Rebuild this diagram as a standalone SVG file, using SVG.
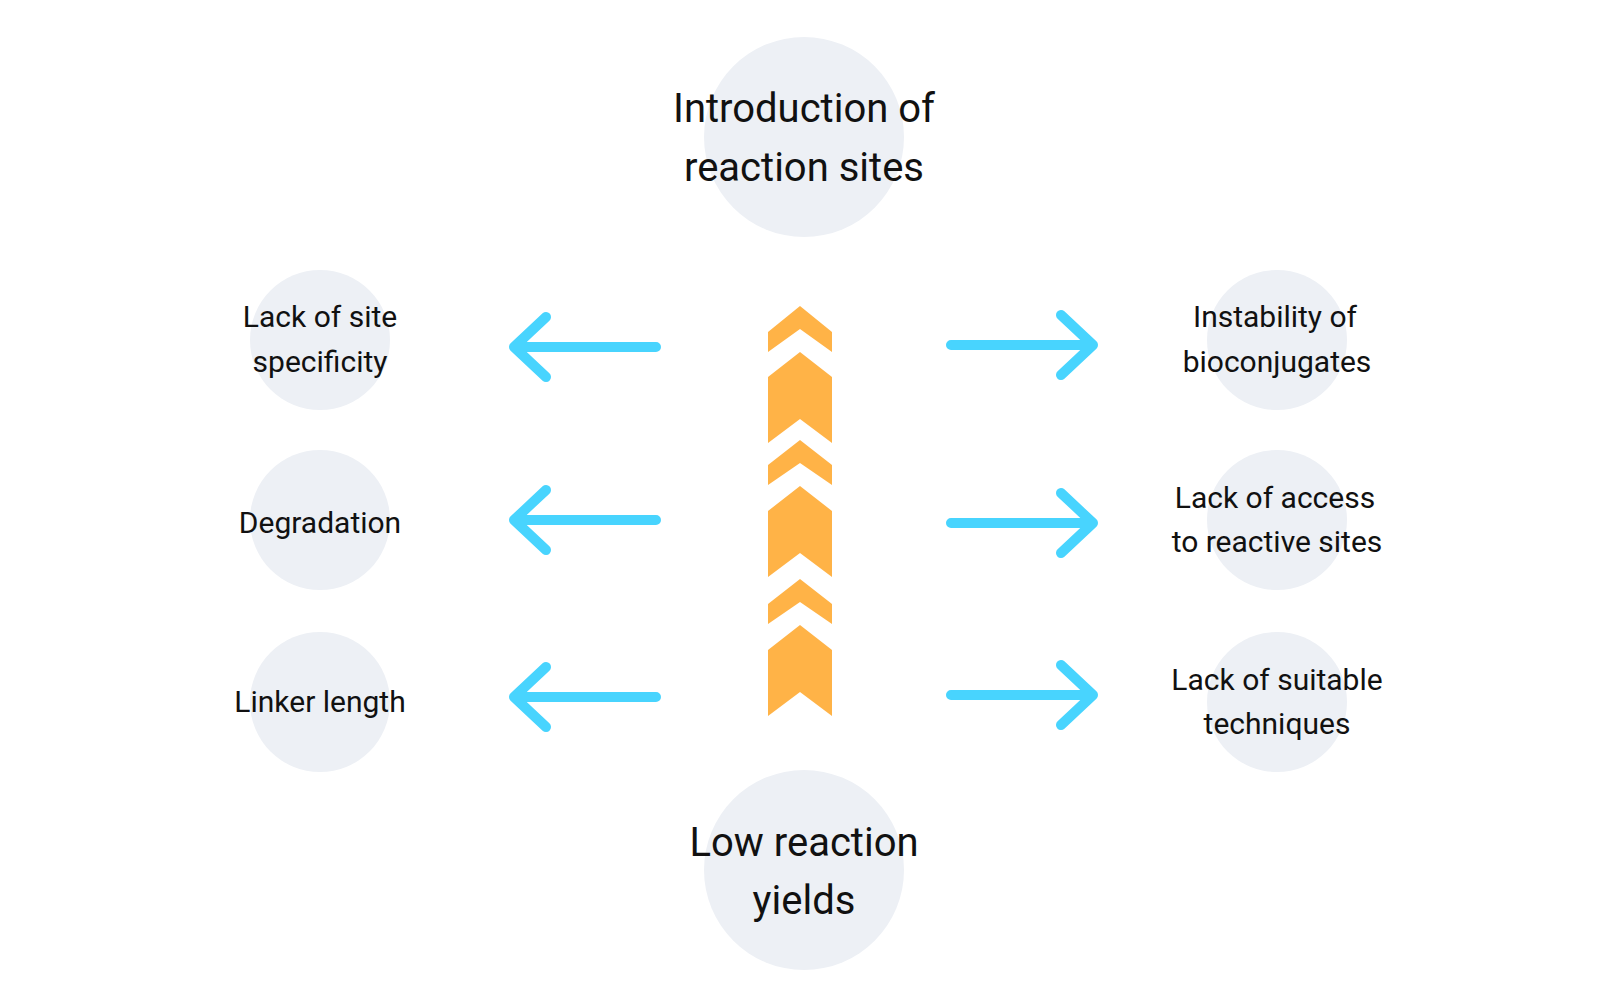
<svg xmlns="http://www.w3.org/2000/svg" width="1600" height="1000" viewBox="0 0 1600 1000">
<style>
.c{fill:#edf0f5}
.t{font-family:Roboto,"Liberation Sans",sans-serif;fill:#111;text-anchor:middle}
.s{font-size:30px}.b{font-size:40px}
.ch{fill:#ffb347}
.a{fill:none;stroke:#48d4fe;stroke-width:10;stroke-linecap:round;stroke-linejoin:round}
</style>
<rect width="1600" height="1000" fill="#fff"/>
<g id="top"><circle class="c" cx="804" cy="137" r="100"/><text class="t b" x="804" y="122">Introduction of</text><text class="t b" x="804" y="181">reaction sites</text></g>
<g id="bottom"><circle class="c" cx="804" cy="870" r="100"/><text class="t b" x="804" y="856">Low reaction</text><text class="t b" x="804" y="914">yields</text></g>
<g id="l1"><circle class="c" cx="320" cy="340" r="70"/><text class="t s" x="320" y="327">Lack of site</text><text class="t s" x="320" y="372">specificity</text></g>
<g id="l2"><circle class="c" cx="320" cy="520" r="70"/><text class="t s" x="320" y="533">Degradation</text></g>
<g id="l3"><circle class="c" cx="320" cy="702" r="70"/><text class="t s" x="320" y="712">Linker length</text></g>
<g id="r1"><circle class="c" cx="1277" cy="340" r="70"/><text class="t s" x="1275" y="327">Instability of</text><text class="t s" x="1277" y="372">bioconjugates</text></g>
<g id="r2"><circle class="c" cx="1277" cy="520" r="70"/><text class="t s" x="1275" y="508">Lack of access</text><text class="t s" x="1277" y="552">to reactive sites</text></g>
<g id="r3"><circle class="c" cx="1277" cy="702" r="70"/><text class="t s" x="1277" y="690">Lack of suitable</text><text class="t s" x="1277" y="734">techniques</text></g>
<g id="chevrons">
<polygon class="ch" points="800,306 832,332 832,352 800,329 768,352 768,332"/>
<polygon class="ch" points="800,352 832,377 832,443 800,419 768,443 768,377"/>
<polygon class="ch" points="800,440 832,465 832,485 800,463 768,485 768,465"/>
<polygon class="ch" points="800,486 832,511 832,577 800,553 768,577 768,511"/>
<polygon class="ch" points="800,579 832,604 832,624 800,602 768,624 768,604"/>
<polygon class="ch" points="800,625 832,650 832,716 800,692 768,716 768,650"/>
</g>
<g id="connectors">
<path class="a" d="M656,347H514M546,317L514,347L546,377"/>
<path class="a" d="M656,520H514M546,490L514,520L546,550"/>
<path class="a" d="M656,697H514M546,667L514,697L546,727"/>
<path class="a" d="M951,345H1093M1061,315L1093,345L1061,375"/>
<path class="a" d="M951,523H1093M1061,493L1093,523L1061,553"/>
<path class="a" d="M951,695H1093M1061,665L1093,695L1061,725"/>
</g>
</svg>
